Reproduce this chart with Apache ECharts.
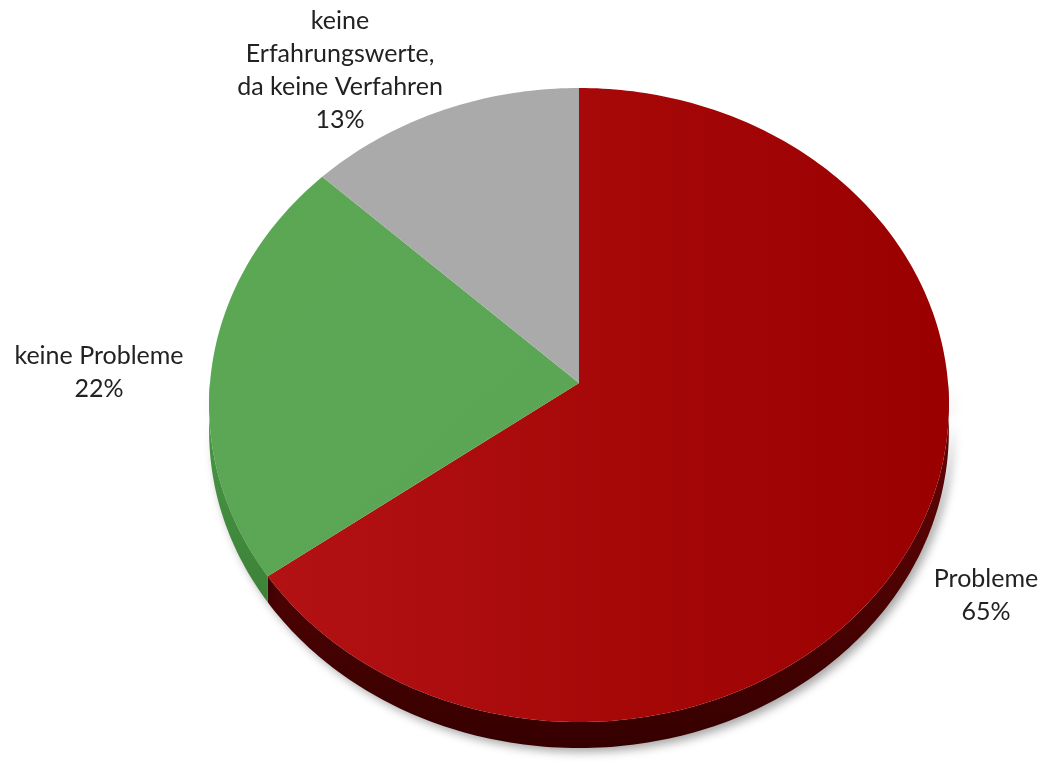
<!DOCTYPE html>
<html>
<head>
<meta charset="utf-8">
<title>Probleme</title>
<script src="https://cdn.jsdelivr.net/npm/echarts@6/dist/echarts.min.js"></script>
<style>
  html, body { margin: 0; padding: 0; background: #ffffff; }
  #chart { width: 1042px; height: 766px; }
</style>
</head>
<body>
<div id="chart"></div>
<script>
// Slice names and shares (percent)
const categories = ['Probleme', 'keine Probleme', 'keine\nErfahrungswerte,\nda keine Verfahren'];
const shares = [65, 22, 13];

// Colours of the top faces and of the rim walls
const topColors = [
  { type: 'linear', x: 0, y: 0, x2: 1, y2: 0, colorStops: [
    { offset: 0, color: '#b31214' }, { offset: 0.55, color: '#a50707' }, { offset: 1, color: '#9a0000' }] },
  { type: 'linear', x: 0, y: 0, x2: 1, y2: 1, colorStops: [
    { offset: 0, color: '#5aa753' }, { offset: 1, color: '#5ba656' }] },
  '#aaaaaa'
];
const sideColors = [
  { type: 'linear', x: 0, y: 0, x2: 0, y2: 1, colorStops: [
    { offset: 0, color: '#6a0505' }, { offset: 1, color: '#360000' }] },
  { type: 'linear', x: 0, y: 0, x2: 0, y2: 1, colorStops: [
    { offset: 0, color: '#4c9947' }, { offset: 1, color: '#3c8238' }] },
  '#7a7a7a'
];

// Pie geometry: tilted disc with a mild perspective
const pie = { cx: 579, cy: 383, rx: 369, ry: 315.5, k: -0.0694, depth: 26 };
// Label anchor points (centre of each text block)
const labelAnchors = [[986, 595], [99, 372], [340, 70]];

const total = shares.reduce((a, b) => a + b, 0);
let acc = 0;
const seriesData = shares.map(v => {
  const start = acc / total;
  acc += v;
  return [v, start, acc / total];
});

// Project an angle (degrees, clockwise from 12 o'clock) on the rim
function project(deg, dy) {
  const t = deg * Math.PI / 180;
  const s = -Math.cos(t);
  const d = 1 + pie.k * s;
  return [pie.cx + pie.rx * Math.sin(t) / d, pie.cy + pie.ry * s / d + (dy || 0)];
}

function arcPoints(a0, a1, dy) {
  const pts = [];
  const n = Math.max(2, Math.ceil(Math.abs(a1 - a0)));
  for (let i = 0; i <= n; i++) pts.push(project(a0 + (a1 - a0) * i / n, dy));
  return pts;
}

function renderItem(params, api) {
  const idx = params.dataIndex;
  const a0 = api.value(1) * 360;
  const a1 = api.value(2) * 360;
  const children = [];

  // visible rim wall: the front half of the disc (90deg .. 270deg)
  const f0 = Math.max(a0, 90), f1 = Math.min(a1, 270);
  if (f1 > f0) {
    const upper = arcPoints(f0, f1, 0);
    const lower = arcPoints(f1, f0, pie.depth);
    children.push({
      type: 'polygon', z2: 1,
      shape: { points: upper.concat(lower) },
      style: {
        fill: sideColors[idx],
        shadowBlur: 10, shadowColor: 'rgba(0,0,0,0.35)', shadowOffsetX: 4, shadowOffsetY: 4
      }
    });
  }

  // top face
  const top = [[pie.cx, pie.cy]].concat(arcPoints(a0, a1, 0));
  children.push({
    type: 'polygon', z2: 10,
    shape: { points: top },
    style: { fill: topColors[idx] }
  });

  // label: name and share
  const pct = Math.round(api.value(0) / total * 100);
  children.push({
    type: 'text', z2: 20,
    style: {
      text: categories[idx] + '\n' + pct + '%',
      x: labelAnchors[idx][0], y: labelAnchors[idx][1],
      align: 'center', verticalAlign: 'middle',
      fontFamily: 'Lato', fontSize: 25, lineHeight: 33,
      fill: '#222222'
    }
  });

  return { type: 'group', children: children };
}

const chart = echarts.init(document.getElementById('chart'), null, { renderer: 'canvas' });
chart.setOption({
  backgroundColor: '#ffffff',
  animation: false,
  series: [{
    type: 'custom',
    coordinateSystem: 'none',
    renderItem: renderItem,
    data: seriesData
  }]
});
</script>
</body>
</html>
